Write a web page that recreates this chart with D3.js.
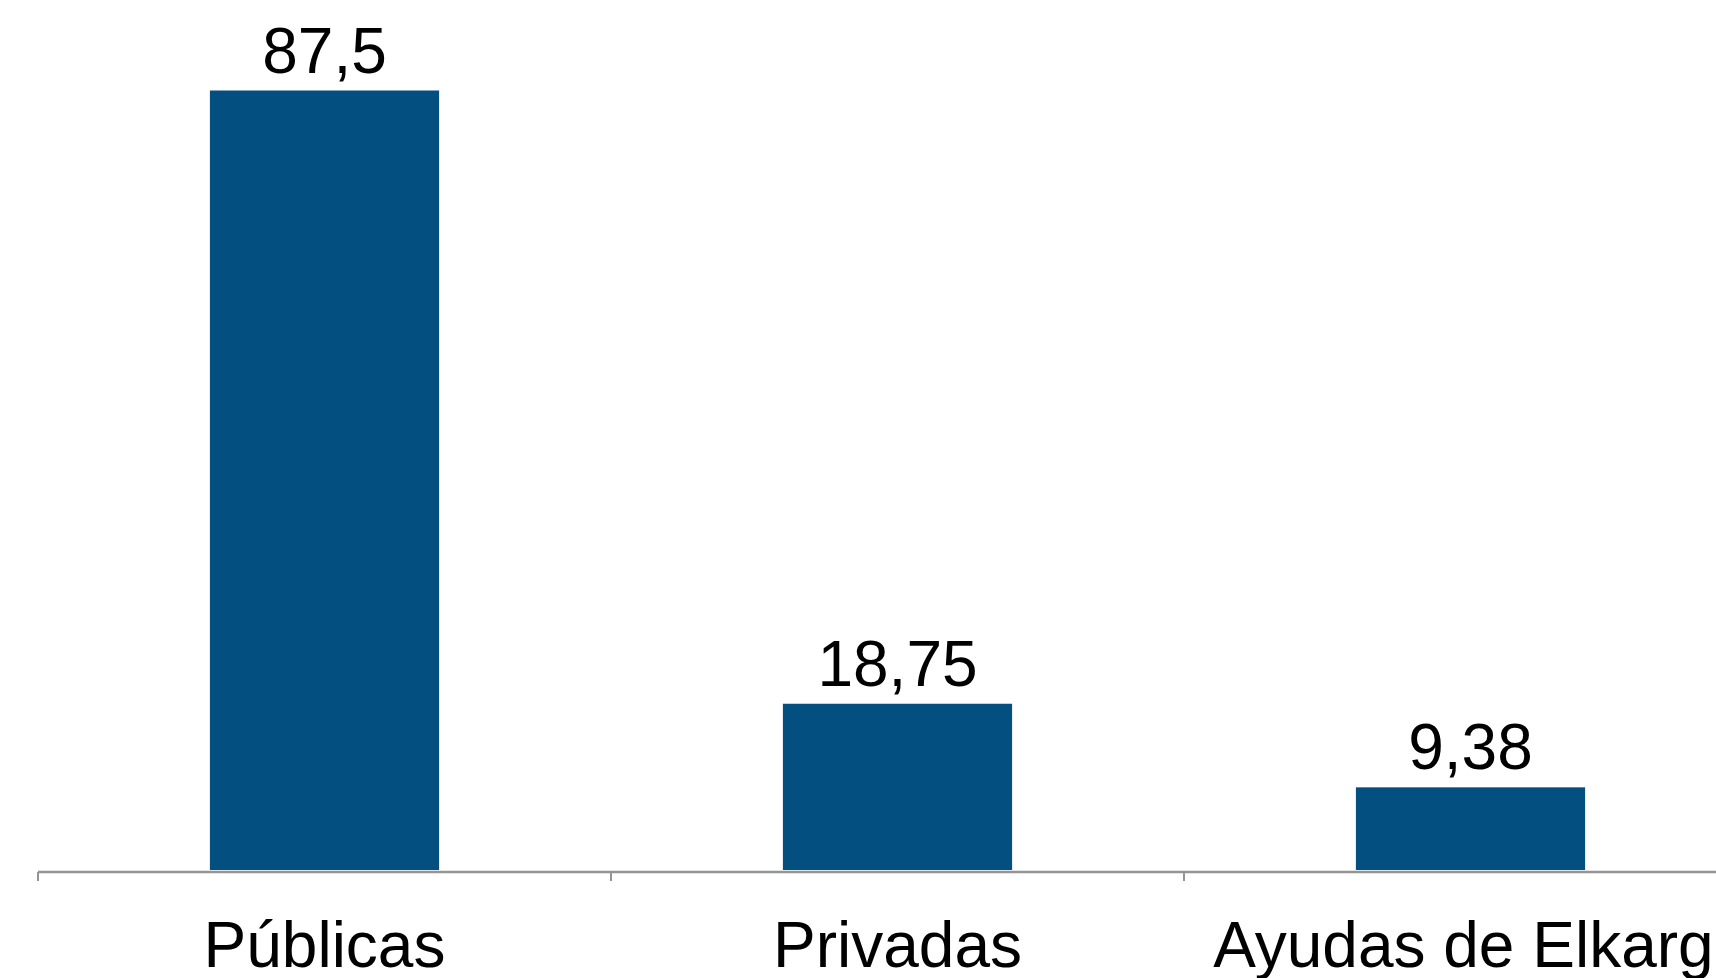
<!DOCTYPE html>
<html>
<head>
<meta charset="utf-8">
<script src="https://cdn.jsdelivr.net/npm/d3@7"></script>
<style>
  html, body { margin: 0; padding: 0; background: #fff; overflow: hidden; }
  svg { display: block; font-family: Arial, "Liberation Sans", sans-serif; }
</style>
</head>
<body>
<div id="chart"></div>
<script>
const categories = ["Públicas", "Privadas", "Ayudas de Elkargi"];
const values = [87.5, 18.75, 9.38];
const valueLabels = ["87,5", "18,75", "9,38"];

document.addEventListener("DOMContentLoaded", function () {
    const width = 1716;
    const height = 978;
    const left = 38;
    const step = 573;
    const baseline = 871;

    const svg = d3.select("#chart")
        .append("svg")
        .attr("width", width)
        .attr("height", height);

    const x = d3.scaleBand()
        .domain(categories)
        .range([left, left + step * categories.length])
        .padding(0);

    const y = d3.scaleLinear()
        .domain([0, 100])
        .range([baseline, baseline - 892]);

    const barW = x.bandwidth() * 0.4;

    svg.selectAll(".bar")
        .data(values)
        .enter()
        .append("rect")
        .attr("class", "bar")
        .attr("x", (d, i) => x(categories[i]) + (x.bandwidth() - barW) / 2)
        .attr("y", d => y(d))
        .attr("width", barW)
        .attr("height", d => y(0) - y(d) - 1)
        .attr("fill", "#034f80");

    // etiquetas de valor
    svg.selectAll(".val")
        .data(values)
        .enter()
        .append("text")
        .attr("class", "val")
        .attr("x", (d, i) => x(categories[i]) + x.bandwidth() / 2)
        .attr("y", d => y(d) - 18)
        .attr("text-anchor", "middle")
        .attr("font-size", 64)
        .attr("fill", "#000")
        .text((d, i) => valueLabels[i]);

    // eje x
    const axis = svg.append("g")
        .attr("transform", `translate(0,${baseline + 1})`);

    axis.append("line")
        .attr("x1", left)
        .attr("x2", width + 50)
        .attr("stroke", "#949494")
        .attr("stroke-width", 2.5);

    const ticks = categories.map(c => x(c)).concat([x.range()[1]]);
    axis.selectAll(".tick")
        .data(ticks)
        .enter()
        .append("line")
        .attr("x1", d => d)
        .attr("x2", d => d)
        .attr("y1", 0)
        .attr("y2", 9)
        .attr("stroke", "#949494")
        .attr("stroke-width", 2);

    axis.selectAll(".cat")
        .data(categories)
        .enter()
        .append("text")
        .attr("class", "cat")
        .attr("x", d => x(d) + x.bandwidth() / 2)
        .attr("y", 95)
        .attr("text-anchor", "middle")
        .attr("font-size", 64)
        .attr("fill", "#000")
        .text(d => d);
});
</script>
</body>
</html>
